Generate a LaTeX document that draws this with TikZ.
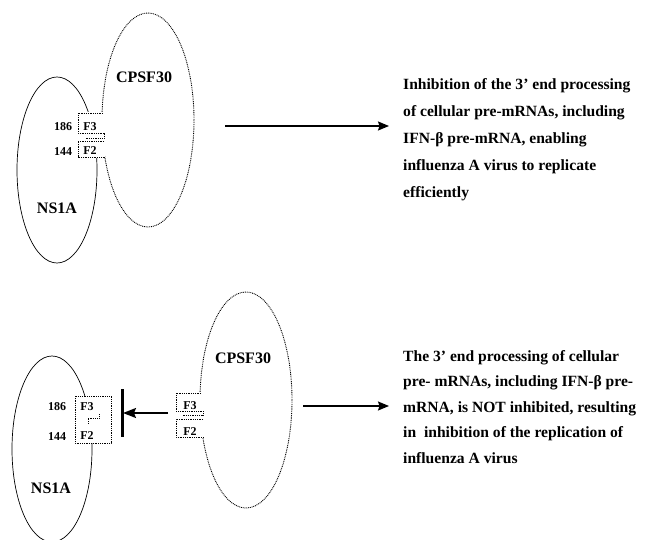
\documentclass[tikz,border=0pt]{standalone}
\usepackage{fontspec}
\setmainfont{Liberation Serif}
\usetikzlibrary{arrows.meta,shapes.geometric}
\begin{document}
\begin{tikzpicture}[x=1pt,y=-1pt,
  solidell/.style={draw, ellipse, inner sep=0pt, line width=0.7pt},
  dotell/.style={draw, ellipse, inner sep=0pt, line width=0.9pt, dash pattern=on 0.9pt off 0.9pt},
  dotline/.style={line width=0.9pt, dash pattern=on 0.9pt off 0.9pt},
  biglabel/.style={font=\bfseries\fontsize{16}{19}\selectfont, inner sep=0pt},
  smalllabel/.style={font=\bfseries\fontsize{12}{14}\selectfont, inner sep=0pt},
  desc/.style={anchor=north west, align=left, inner sep=0pt},
  arr/.style={line width=1.5pt, -{Stealth[length=11pt,width=9pt,inset=1.5pt]}},
  bigarr/.style={line width=1.6pt, -{Stealth[length=13pt,width=10pt,inset=2pt]}},
  barline/.style={line width=3pt}
]
\useasboundingbox (0,0) rectangle (645,540);
\clip (0,0) rectangle (645,540);

% ---------- top panel ----------
\node[solidell, minimum width=80pt, minimum height=186pt] (ns1top) at (57,170) {};
\node[dotell, minimum width=92pt, minimum height=214pt] (cpsftop) at (148,120) {};
\fill[white] (77,112) rectangle (105,158);
\draw[dotline] (103,113) -- (78,113) -- (78,133) -- (104,133) -- (104,138) -- (86,138);
\draw[dotline] (104,141) -- (78,141) -- (78,157) -- (105,157);
\node[biglabel] (cpsftoplbl) at (144,77) {CPSF30};
\node[biglabel] (ns1toplbl) at (57,208) {NS1A};
\node[smalllabel] (n186t) at (63,127) {186};
\node[smalllabel] (f3t) at (90,127) {F3};
\node[smalllabel] (n144t) at (63,152) {144};
\node[smalllabel] (f2t) at (90,151) {F2};

\coordinate (a1s) at (225,126);
\coordinate (a1e) at (389,126);
\draw[arr] (a1s) -- (a1e);

\node[desc, font=\bfseries\fontsize{15.6}{27}\selectfont] (txttop) at (403,78)
 {Inhibition of the 3’ end processing\\of cellular pre-mRNAs, including\\IFN-β pre-mRNA, enabling\\influenza A virus to replicate\\efficiently};

% ---------- bottom panel ----------
\node[solidell, minimum width=80pt, minimum height=186pt] (ns1bot) at (52,449) {};
\node[dotell, minimum width=92pt, minimum height=216pt] (cpsfbot) at (246,400) {};

\fill[white] (75,396) rectangle (111,443);
\draw[dotline] (75,396) rectangle (111,443);
\draw[dotline] (99,414) -- (99,418) -- (88,418) -- (88,423);

\fill[white] (175,392) rectangle (204,438);
\draw[dotline] (201,393) -- (176,393) -- (176,411) -- (203,411) -- (203,415) -- (182,415);
\draw[dotline] (203,419) -- (176,419) -- (176,437) -- (204,437);

\node[biglabel] (cpsfbotlbl) at (243,358) {CPSF30};
\node[biglabel] (ns1botlbl) at (51,488) {NS1A};
\node[smalllabel] (n186b) at (57,407) {186};
\node[smalllabel] (f3b) at (87,407) {F3};
\node[smalllabel] (n144b) at (57,437) {144};
\node[smalllabel] (f2b) at (87,436) {F2};
\node[smalllabel] (f3r) at (190,406) {F3};
\node[smalllabel] (f2r) at (190,432) {F2};

\coordinate (bart) at (122,389);
\coordinate (barb) at (122,437);
\draw[barline] (bart) -- (barb);
\coordinate (ihs) at (168,413);
\coordinate (ihe) at (123,413);
\draw[bigarr] (ihs) -- (ihe);

\coordinate (a2s) at (303,406);
\coordinate (a2e) at (389,406);
\draw[arr] (a2s) -- (a2e);

\node[desc, font=\bfseries\fontsize{15.6}{25.5}\selectfont] (txtbot) at (403,350)
 {The 3’ end processing of cellular\\pre- mRNAs, including IFN-β pre-\\mRNA, is NOT inhibited, resulting\\in~ inhibition of the replication of\\influenza A virus};
\end{tikzpicture}
\end{document}
